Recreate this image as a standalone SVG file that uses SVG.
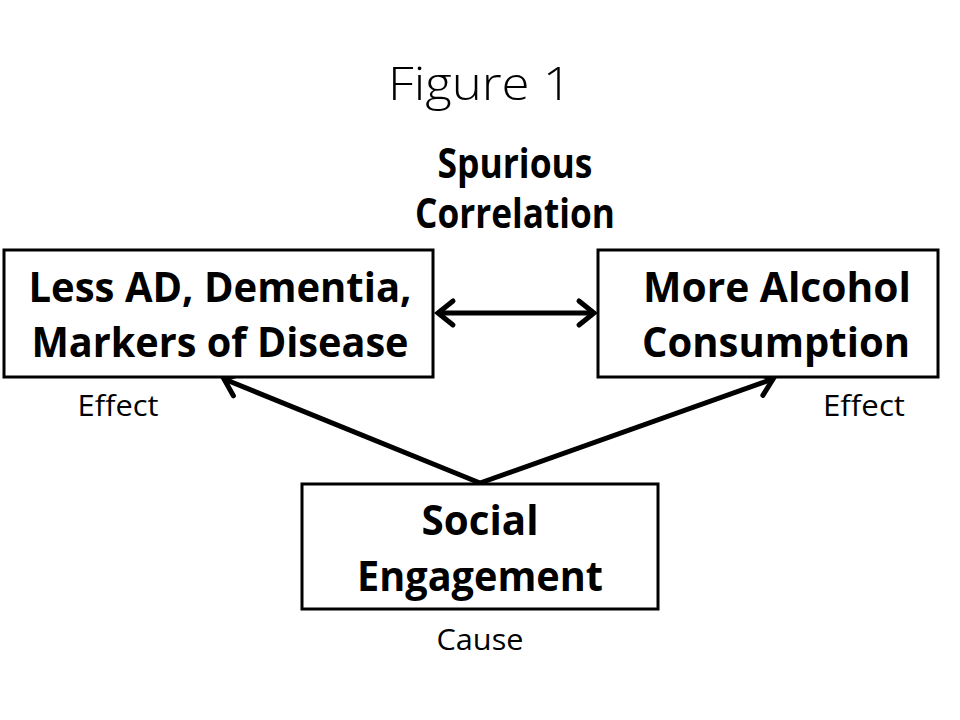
<svg xmlns="http://www.w3.org/2000/svg" width="960" height="720" viewBox="0 0 960 720">
<style>
.box{fill:#fff;stroke:#000;stroke-width:3}
.bt{font-family:"Open Sans","Liberation Sans",Arial,sans-serif;font-weight:bold;font-size:42px;fill:#000;text-anchor:middle}
.lb{font-family:"Open Sans","Liberation Sans",Arial,sans-serif;font-size:29px;fill:#000;text-anchor:middle}
.conn{stroke:#000;stroke-width:5;fill:none}
</style>
<defs>
<marker id="ah" markerUnits="userSpaceOnUse" viewBox="-20 -14 24 28" refX="0" refY="0" markerWidth="24" markerHeight="28" orient="auto-start-reverse" overflow="visible">
<path d="M-15,-12 L0,0 L-15,12" fill="none" stroke="#000" stroke-width="5" stroke-linecap="round" stroke-linejoin="miter"/>
</marker>
</defs>
<rect width="960" height="720" fill="#fff"/>
<text x="480" y="100" font-family="'Open Sans','Liberation Sans',sans-serif" font-weight="300" font-size="46" text-anchor="middle" textLength="184" lengthAdjust="spacingAndGlyphs">Figure 1</text>
<g id="label-spurious">
<text class="bt" x="515" y="178" font-size="32" textLength="155" lengthAdjust="spacingAndGlyphs">Spurious</text>
<text class="bt" x="515" y="228" font-size="32" textLength="200" lengthAdjust="spacingAndGlyphs">Correlation</text>
</g>
<g id="connectors">
<line class="conn" x1="438" y1="313" x2="594" y2="313" marker-start="url(#ah)" marker-end="url(#ah)"/>
<line class="conn" x1="480" y1="483" x2="224" y2="379" marker-end="url(#ah)"/>
<line class="conn" x1="480" y1="483" x2="773" y2="379" marker-end="url(#ah)"/>
</g>
<g id="node-effect-left">
<rect class="box" x="4" y="250" width="429" height="127"/>
<text class="bt" x="220" y="302" textLength="383" lengthAdjust="spacingAndGlyphs">Less AD, Dementia,</text>
<text class="bt" x="220" y="357" textLength="377" lengthAdjust="spacingAndGlyphs">Markers of Disease</text>
<text class="lb" x="118" y="416" textLength="81" lengthAdjust="spacingAndGlyphs">Effect</text>
</g>
<g id="node-effect-right">
<rect class="box" x="598" y="250" width="340" height="127"/>
<text class="bt" x="777" y="302" textLength="268" lengthAdjust="spacingAndGlyphs">More Alcohol</text>
<text class="bt" x="776" y="357" textLength="268" lengthAdjust="spacingAndGlyphs">Consumption</text>
<text class="lb" x="864" y="416" textLength="82" lengthAdjust="spacingAndGlyphs">Effect</text>
</g>
<g id="node-cause">
<rect class="box" x="302" y="484" width="356" height="125"/>
<text class="bt" x="480" y="535" textLength="117" lengthAdjust="spacingAndGlyphs">Social</text>
<text class="bt" x="480" y="591" textLength="246" lengthAdjust="spacingAndGlyphs">Engagement</text>
<text class="lb" x="480" y="650" textLength="87" lengthAdjust="spacingAndGlyphs">Cause</text>
</g>
</svg>
